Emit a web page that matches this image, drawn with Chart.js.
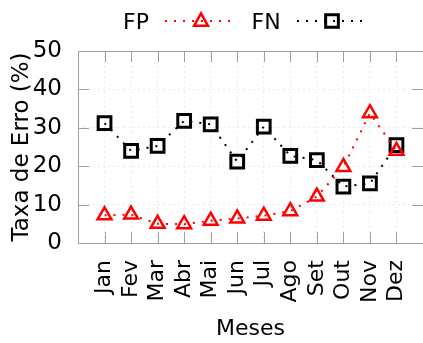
<!DOCTYPE html>
<html>
<head>
<meta charset="utf-8">
<script src="https://cdn.jsdelivr.net/npm/chart.js@4/dist/chart.umd.min.js"></script>
<style>
  html, body { margin: 0; padding: 0; background: #fff; }
  #wrap { width: 423px; height: 343px; }
</style>
</head>
<body>
<div id="wrap"><canvas id="c" width="423" height="343"></canvas></div>
<script>
// Monthly error rates (%)
const months = ['Jan', 'Fev', 'Mar', 'Abr', 'Mai', 'Jun', 'Jul', 'Ago', 'Set', 'Out', 'Nov', 'Dez'];
const fpRate = [7.2, 7.4, 5.0, 4.9, 5.8, 6.4, 7.1, 8.3, 12.1, 19.8, 33.8, 24.0];
const fnRate = [31.2, 24.0, 25.3, 31.8, 30.9, 21.2, 30.3, 22.7, 21.6, 14.7, 15.5, 25.5];
const yTicks = [0, 10, 20, 30, 40, 50];
const seriesNames = ['FP', 'FN'];

const FONT = 'DejaVu Sans';
const FRAME = '#a0a0a0';
const TICK_LEN = 11;

const toPoints = vals => vals.map((v, i) => ({ x: i + 1, y: v }));

// Plot box with inward tick marks on all four sides
const framePlugin = {
  id: 'frame',
  beforeDatasetsDraw(chart) {
    const { ctx, chartArea: a, scales: { x, y } } = chart;
    ctx.save();
    ctx.strokeStyle = FRAME;
    ctx.lineWidth = 1;
    ctx.setLineDash([]);
    ctx.beginPath();
    ctx.rect(Math.round(a.left) + 0.5, Math.round(a.top) + 0.5,
             Math.round(a.right - a.left), Math.round(a.bottom - a.top));
    months.forEach((m, i) => {
      const px = Math.round(x.getPixelForValue(i + 1)) + 0.5;
      ctx.moveTo(px, a.bottom); ctx.lineTo(px, a.bottom - TICK_LEN);
      ctx.moveTo(px, a.top); ctx.lineTo(px, a.top + TICK_LEN);
    });
    yTicks.forEach(v => {
      const py = Math.round(y.getPixelForValue(v)) + 0.5;
      ctx.moveTo(a.left, py); ctx.lineTo(a.left + TICK_LEN, py);
      ctx.moveTo(a.right, py); ctx.lineTo(a.right - TICK_LEN, py);
    });
    ctx.stroke();
    ctx.restore();
  }
};

// Key above the plot: label, then a dotted sample with its marker
const keyPlugin = {
  id: 'key',
  afterDraw(chart) {
    const { ctx } = chart;
    const entries = [
      { text: seriesNames[0], tx: 123, x0: 165, x1: 237, mx: 201, my: 21, color: '#ff0000', style: 'triangle' },
      { text: seriesNames[1], tx: 251.5, x0: 297, x1: 369, mx: 332, my: 21, color: '#000000', style: 'rect' }
    ];
    ctx.save();
    entries.forEach(e => {
      ctx.font = '22px "' + FONT + '"';
      ctx.fillStyle = '#000';
      ctx.textAlign = 'left';
      ctx.textBaseline = 'alphabetic';
      ctx.fillText(e.text, e.tx, 29);
      ctx.strokeStyle = e.color;
      ctx.lineWidth = 2;
      ctx.setLineDash([2, 7]);
      ctx.beginPath();
      ctx.moveTo(e.x0, e.my); ctx.lineTo(e.x1, e.my);
      ctx.stroke();
      ctx.setLineDash([]);
      ctx.lineWidth = e.style === 'rect' ? 3 : 2.5;
      ctx.beginPath();
      if (e.style === 'rect') {
        const s = 9 / Math.SQRT2;
        ctx.rect(e.mx - s, e.my - s, 2 * s, 2 * s);
      } else {
        const r = 8;
        ctx.moveTo(e.mx, e.my - r * 0.95);
        ctx.lineTo(e.mx + r * 0.866, e.my + r * 0.6);
        ctx.lineTo(e.mx - r * 0.866, e.my + r * 0.6);
        ctx.closePath();
      }
      ctx.stroke();
    });
    ctx.restore();
  }
};

new Chart(document.getElementById('c'), {
  type: 'line',
  data: {
    datasets: [
      {
        label: seriesNames[0],
        data: toPoints(fpRate),
        borderColor: '#ff0000',
        borderWidth: 2,
        borderDash: [2, 7],
        pointStyle: 'triangle',
        pointRadius: 8,
        pointBorderWidth: 2.5,
        pointBorderColor: '#ff0000',
        pointBackgroundColor: 'rgba(0,0,0,0)',
        tension: 0
      },
      {
        label: seriesNames[1],
        data: toPoints(fnRate),
        borderColor: '#000000',
        borderWidth: 2,
        borderDash: [2, 7],
        pointStyle: 'rect',
        pointRadius: 9,
        pointBorderWidth: 3,
        pointBorderColor: '#000000',
        pointBackgroundColor: 'rgba(0,0,0,0)',
        tension: 0
      }
    ]
  },
  options: {
    responsive: false,
    animation: false,
    devicePixelRatio: 1,
    layout: { autoPadding: false, padding: { top: 51, right: -1, left: 0, bottom: 0 } },
    plugins: { legend: { display: false }, tooltip: { enabled: false } },
    scales: {
      x: {
        type: 'linear',
        min: 0,
        max: 13,
        afterBuildTicks(s) {
          s.ticks = months.map((m, i) => ({ value: i + 1 }));
        },
        afterFit(s) { s.height = 100; s.paddingLeft = 0; s.paddingRight = 0; },
        ticks: {
          autoSkip: false,
          minRotation: 90,
          maxRotation: 90,
          padding: 17,
          color: '#000',
          font: { family: FONT, size: 22 },
          callback: v => months[v - 1] ?? ''
        },
        grid: { color: 'rgba(0,0,0,0.08)', drawTicks: false },
        border: { display: false, dash: [2, 3] },
        title: {
          display: true,
          text: 'Meses',
          color: '#000',
          font: { family: FONT, size: 22 },
          padding: { top: 0, bottom: 1 }
        }
      },
      y: {
        min: 0,
        max: 50,
        afterBuildTicks(s) { s.ticks = yTicks.map(v => ({ value: v })); },
        afterFit(s) { s.width = 78; s.paddingTop = 0; s.paddingBottom = 0; },
        ticks: {
          padding: 16,
          color: '#000',
          font: { family: FONT, size: 23 }
        },
        grid: { color: 'rgba(0,0,0,0.08)', drawTicks: false },
        border: { display: false, dash: [2, 3] },
        title: {
          display: true,
          text: 'Taxa de Erro (%)',
          color: '#000',
          font: { family: FONT, size: 23 },
          padding: { top: 8, bottom: 0 }
        }
      }
    }
  },
  plugins: [framePlugin, keyPlugin]
});
</script>
</body>
</html>
